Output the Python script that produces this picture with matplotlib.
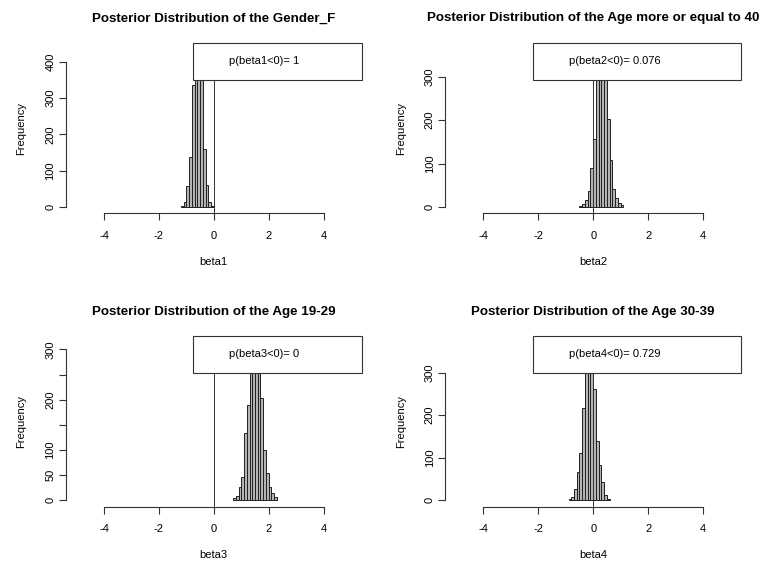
import numpy as np
import matplotlib
matplotlib.use("Agg")
import matplotlib.pyplot as plt
from matplotlib.patches import Rectangle

plt.rcParams['font.family'] = ['Liberation Sans', 'DejaVu Sans']

titles = ["Posterior Distribution of the Gender_F",
          "Posterior Distribution of the Age more or equal to 40",
          "Posterior Distribution of the Age 19-29",
          "Posterior Distribution of the Age 30-39"]
xlabels = ["beta1", "beta2", "beta3", "beta4"]
legend_texts = ["p(beta1<0)= 1", "p(beta2<0)= 0.076",
                "p(beta3<0)= 0", "p(beta4<0)= 0.729"]

# histogram counts (bin width 0.1), first bin left edge
beta1_start = -1.2
beta1_counts = [3, 15, 57, 137, 337, 395, 434, 385, 159, 61, 14, 3]
beta2_start = -0.5
beta2_counts = [2, 7, 16, 37, 90, 157, 310, 363, 335, 295, 202, 109, 42, 21, 10, 4]
beta3_start = 0.7
beta3_counts = [4, 8, 27, 46, 133, 189, 280, 314, 305, 290, 203, 100, 54, 26, 14, 7]
beta4_start = -0.9
beta4_counts = [2, 8, 27, 66, 110, 216, 320, 371, 338, 261, 140, 83, 43, 12, 3]
bin_width = 0.1

y_ticks = [[0, 100, 200, 300, 400],
           [0, 100, 200, 300],
           [0, 50, 100, 150, 200, 250, 300],
           [0, 100, 200, 300]]
y_ticklabels = [["0", "100", "200", "300", "400"],
                ["0", "100", "200", "300"],
                ["0", "50", "100", "", "200", "", "300"],
                ["0", "100", "200", "300"]]
x_ticks = [-4, -2, 0, 2, 4]

starts = [beta1_start, beta2_start, beta3_start, beta4_start]
counts_all = [beta1_counts, beta2_counts, beta3_counts, beta4_counts]

positions = [[0.0863, 0.6198, 0.3894, 0.3036],
             [0.5848, 0.6198, 0.3894, 0.3036],
             [0.0863, 0.0971, 0.3894, 0.3039],
             [0.5848, 0.0971, 0.3894, 0.3039]]
legend_left = [0.4296, 0.297, 0.4296, 0.297]
text_left = [0.551, 0.419, 0.551, 0.419]

fig = plt.figure(figsize=(7.61, 5.61), dpi=100)
fs = 8
for i in range(4):
    ax = fig.add_axes(positions[i])
    cnt = np.array(counts_all[i])
    edges = np.round(starts[i] + bin_width * np.arange(len(cnt)), 3)
    ax.bar(edges, cnt, width=bin_width, align='edge', color='#B4B4B4',
           edgecolor='#202020', linewidth=0.7, zorder=2)
    ax.axvline(0, color='#333333', linewidth=0.7, zorder=3)
    m = cnt.max()
    ax.set_xlim(-5.4, 5.4)
    ax.set_ylim(-0.04 * m, 1.04 * m)
    for s in ['top', 'right']:
        ax.spines[s].set_visible(False)
    ax.spines['bottom'].set_bounds(-4, 4)
    ax.spines['left'].set_bounds(y_ticks[i][0], y_ticks[i][-1])
    for s in ['bottom', 'left']:
        ax.spines[s].set_linewidth(0.8)
        ax.spines[s].set_color('#333333')
    ax.set_xticks(x_ticks)
    ax.set_xticklabels([str(v) for v in x_ticks])
    ax.set_yticks(y_ticks[i])
    ax.set_yticklabels(y_ticklabels[i], rotation=90, va='center')
    ax.tick_params(axis='both', length=5, width=0.8, color='#333333',
                   labelsize=fs)
    ax.tick_params(axis='x', pad=7.5)
    ax.tick_params(axis='y', pad=2.5)
    ax.set_xlabel(xlabels[i], fontsize=fs, labelpad=11.5)
    ax.set_ylabel("Frequency", fontsize=fs, labelpad=13.5)
    ax.set_title(titles[i], fontsize=9.6, fontweight='bold', pad=15.5)
    rect = Rectangle((legend_left[i], 1 - 0.2155), 1 - legend_left[i], 0.2155,
                     transform=ax.transAxes, facecolor='white',
                     edgecolor='#333333', linewidth=0.8, zorder=5,
                     clip_on=False)
    ax.add_patch(rect)
    ax.text(text_left[i], 1 - 0.2155 / 2, legend_texts[i], transform=ax.transAxes,
            fontsize=fs, va='center', ha='left', zorder=6)

fig.savefig("out.png", dpi=100)
